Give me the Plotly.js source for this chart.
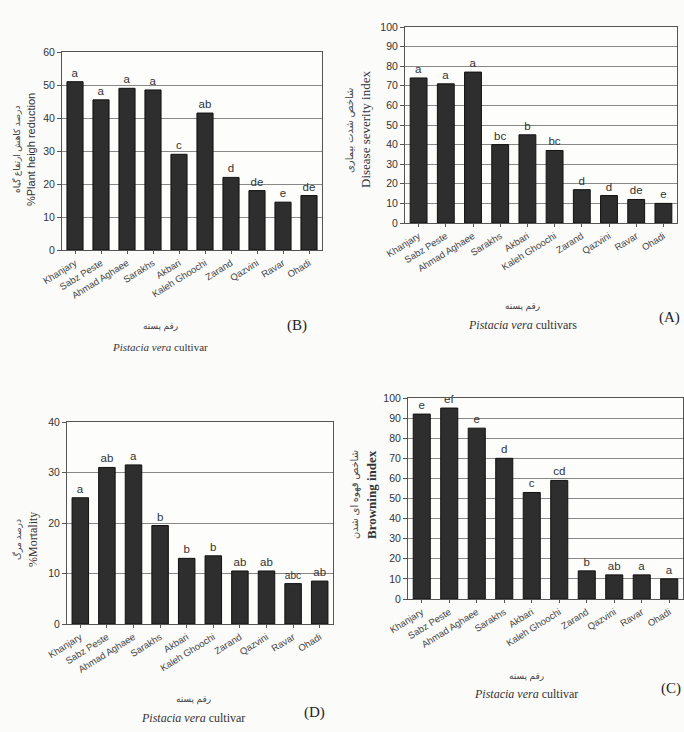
<!DOCTYPE html>
<html><head><meta charset="utf-8">
<script src="https://cdn.plot.ly/plotly-3.0.1.min.js"></script>
<style>html,body{margin:0;padding:0;background:#fbfbfa}</style>
</head><body><div id="chart" style="width:684px;height:732px"></div>
<script>
const cultivars = ["Khanjary","Sabz Peste","Ahmad Aghaee","Sarakhs","Akbari","Kaleh Ghoochi","Zarand","Qazvini","Ravar","Ohadi"];
// (A) Disease severity index
const severityA = [74, 71, 77, 40, 45, 37, 17, 14, 12, 10];
const lettersA = ["a","a","a","bc","b","bc","d","d","de","e"];
// (B) % plant height reduction
const heightB = [51, 45.5, 49, 48.5, 29, 41.5, 22, 18, 14.5, 16.5];
const lettersB = ["a","a","a","a","c","ab","d","de","e","de"];
// (C) Browning index
const browningC = [92, 95, 85, 70, 53, 59, 14, 12, 12, 10];
const lettersC = ["e","ef","e","d","c","cd","b","ab","a","a"];
// (D) % mortality
const mortalityD = [25, 31, 31.5, 19.5, 13, 13.5, 10.5, 10.5, 8, 8.5];
const lettersD = ["a","ab","a","b","b","b","ab","ab","abc","ab"];

const W = 684, H = 732;
const px = v => v / W, py = v => 1 - v / H;

const letterFont = {family: 'Liberation Sans, Arial', size: 11.5, color: '#333'};
function barTrace(y, letters, xa, ya) {
  return {
    type: 'bar', x: cultivars, y: y, text: letters, textposition: 'outside',
    cliponaxis: false, xaxis: xa, yaxis: ya, hoverinfo: 'x+y',
    marker: {color: '#2e2e2e', line: {color: '#111', width: 1}},
    textfont: letterFont, outsidetextfont: letterFont
  };
}
const data = [
  barTrace(heightB, lettersB, 'x', 'y'),
  barTrace(severityA, lettersA, 'x2', 'y2'),
  barTrace(mortalityD, lettersD, 'x3', 'y3'),
  barTrace(browningC, lettersC, 'x4', 'y4')
];

function xax(l, r, anchor) {
  return {domain: [px(l), px(r)], anchor: anchor, tickangle: -32,
    tickfont: {family: 'Liberation Sans, Arial', size: 9.5, color: '#444'},
    showline: true, linecolor: '#555', mirror: true, ticks: 'outside', ticklen: 3,
    tickcolor: '#555', fixedrange: true};
}
function yax(t, b, anchor, max, dt) {
  return {domain: [py(b), py(t)], anchor: anchor, range: [0, max], dtick: dt,
    tickfont: {family: 'Liberation Sans, Arial', size: 10.5, color: '#333'},
    showline: true, linecolor: '#555', mirror: true, ticks: 'outside', ticklen: 4,
    tickcolor: '#555', showgrid: true, gridcolor: '#888', gridwidth: 1, zeroline: false};
}

const ann = [];
function A(x, y, text, opts) {
  ann.push(Object.assign({xref: 'paper', yref: 'paper', x: px(x), y: py(y), text: text,
    showarrow: false, xanchor: 'center', yanchor: 'middle',
    font: {family: 'Liberation Serif, Times New Roman', size: 12, color: '#222'}}, opts || {}));
}
const fa = s => ({family: 'Noto Sans, DejaVu Sans', size: s, color: '#444'});
// Panel B
A(16, 150, 'درصد کاهش ارتفاع گیاه', {textangle: -90, font: fa(9)});
A(31, 150, '%Plant heigh reduction', {textangle: -90, font: {family: 'Liberation Sans, Arial', size: 11, color: '#333'}});
A(160, 326, 'رقم پسته', {font: fa(9)});
A(160, 347, '<i>Pistacia vera</i> cultivar', {font: {family: 'Liberation Serif', size: 11, color: '#333'}});
A(297, 325, '(B)', {font: {family: 'Liberation Serif', size: 15, color: '#222'}});
// Panel A
A(349, 130, 'شاخص شدت بیماری', {textangle: -90, font: fa(10)});
A(366, 130, 'Disease severity index', {textangle: -90, font: {family: 'Liberation Serif', size: 13, color: '#333'}});
A(522, 305, 'رقم پسته', {font: fa(9)});
A(522, 325, '<i>Pistacia vera</i> cultivars', {font: {family: 'Liberation Serif', size: 12, color: '#333'}});
A(669, 318, '(A)', {font: {family: 'Liberation Serif', size: 15, color: '#222'}});
// Panel D
A(17, 540, 'درصد مرگ', {textangle: -90, font: fa(9)});
A(33, 540, '%Mortality', {textangle: -90, font: {family: 'Liberation Serif', size: 12, color: '#333'}});
A(193, 698, 'رقم پسته', {font: fa(9)});
A(193, 718, '<i>Pistacia vera</i> cultivar', {font: {family: 'Liberation Serif', size: 12, color: '#333'}});
A(314, 712, '(D)', {font: {family: 'Liberation Serif', size: 15, color: '#222'}});
// Panel C
A(354, 495, 'شاخص قهوه ای شدن', {textangle: -90, font: fa(10)});
A(371, 495, '<b>Browning index</b>', {textangle: -90, font: {family: 'Liberation Serif', size: 13, color: '#333'}});
A(526, 675, 'رقم پسته', {font: fa(9)});
A(526, 694, '<i>Pistacia vera</i> cultivar', {font: {family: 'Liberation Serif', size: 12, color: '#333'}});
A(671, 688, '(C)', {font: {family: 'Liberation Serif', size: 15, color: '#222'}});

const layout = {
  width: W, height: H, margin: {l: 0, r: 0, t: 0, b: 0},
  paper_bgcolor: '#fbfbfa', plot_bgcolor: '#fdfdfc', showlegend: false,
  bargap: 0.38,
  xaxis: xax(62, 322, 'y'), yaxis: yax(52, 250, 'x', 60, 10),
  xaxis2: xax(405, 677, 'y2'), yaxis2: yax(27, 223, 'x2', 100, 10),
  xaxis3: xax(67, 333, 'y3'), yaxis3: yax(422, 624, 'x3', 40, 10),
  xaxis4: xax(408, 683, 'y4'), yaxis4: yax(398, 599, 'x4', 100, 10),
  annotations: ann
};
Plotly.newPlot('chart', data, layout, {displayModeBar: false, staticPlot: true});
</script></body></html>
